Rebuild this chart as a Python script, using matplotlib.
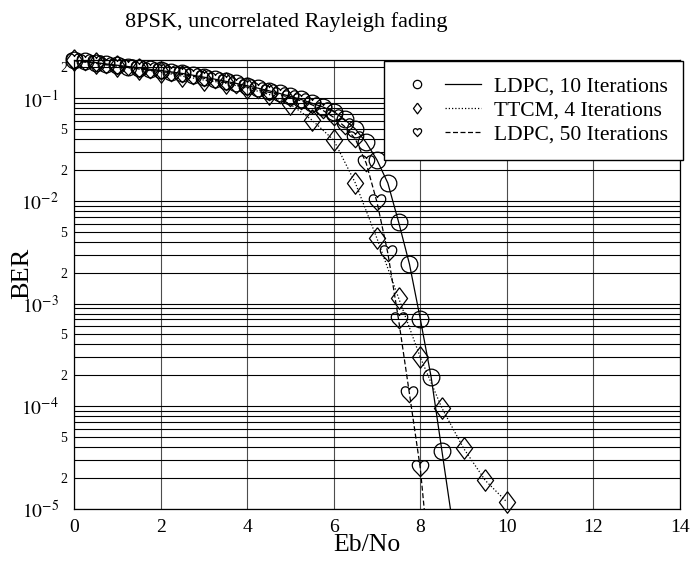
import numpy as np
import matplotlib
matplotlib.use('Agg')
import matplotlib.pyplot as plt
from matplotlib.path import Path
from matplotlib.legend_handler import HandlerTuple
from matplotlib.ticker import FixedLocator, FuncFormatter

plt.rcParams['font.family'] = ['Liberation Serif', 'DejaVu Serif']
plt.rcParams['mathtext.fontset'] = 'stix'

# values (Eb/No in dB, BER)
ebno_ldpc10 = [0, 0.25, 0.5, 0.75, 1, 1.25, 1.5, 1.75, 2, 2.25, 2.5, 2.75, 3, 3.25,
               3.5, 3.75, 4, 4.25, 4.5, 4.75, 5, 5.25, 5.5, 5.75, 6, 6.25, 6.5, 6.75,
               7, 7.25, 7.5, 7.75, 8, 8.25, 8.5, 8.75]
ber_ldpc10 = [0.235, 0.228, 0.222, 0.215, 0.209, 0.203, 0.197, 0.191, 0.186, 0.180,
              0.174, 0.167, 0.160, 0.153, 0.146, 0.139, 0.132, 0.125, 0.118, 0.111,
              0.104, 0.097, 0.089, 0.082, 0.074, 0.062, 0.050, 0.037, 0.025, 0.0149,
              0.0062, 0.00242, 0.00071, 0.000193, 3.67e-5, 7e-6]

ebno_ttcm = [0, 0.5, 1, 1.5, 2, 2.5, 3, 3.5, 4, 4.5, 5, 5.5, 6, 6.5, 7, 7.5, 8, 8.5,
             9, 9.5, 10]
ber_ttcm = [0.234, 0.219, 0.205, 0.191, 0.179, 0.164, 0.150, 0.140, 0.125, 0.109,
            0.087, 0.061, 0.039, 0.0149, 0.0043, 0.00113, 3.0e-4, 9.6e-5, 3.9e-5,
            1.9e-5, 1.17e-5]

ebno_ldpc50 = [0, 0.25, 0.5, 0.75, 1, 1.25, 1.5, 1.75, 2, 2.25, 2.5, 2.75, 3, 3.25,
               3.5, 3.75, 4, 4.25, 4.5, 4.75, 5, 5.25, 5.5, 5.75, 6, 6.25, 6.5, 6.75,
               7, 7.25, 7.5, 7.75, 8, 8.25]
ber_ldpc50 = [0.231, 0.224, 0.218, 0.211, 0.205, 0.199, 0.193, 0.187, 0.182, 0.176,
              0.170, 0.163, 0.156, 0.149, 0.142, 0.135, 0.128, 0.121, 0.114, 0.108,
              0.101, 0.094, 0.086, 0.076, 0.065, 0.053, 0.040, 0.0233, 0.0097, 0.0031,
              6.9e-4, 1.32e-4, 2.5e-5, 2e-6]

labels = ['LDPC, 10 Iterations', 'TTCM, 4 Iterations', 'LDPC, 50 Iterations']

x_ticks = [0, 2, 4, 6, 8, 10, 12, 14]
y_major = [1e-5, 1e-4, 1e-3, 1e-2, 1e-1]
y_min, y_max = 1e-5, 0.235

# marker shapes
diamond = [(0, 1), (0.75, 0), (0, -1), (-0.75, 0), (0, 1)]
heart = Path([(0, -1), (-0.35, -0.55), (-1, -0.2), (-1, 0.4),
              (-1, 1.05), (-0.2, 1.1), (0, 0.6),
              (0.2, 1.1), (1, 1.05), (1, 0.4),
              (1, -0.2), (0.35, -0.55), (0, -1), (0, -1)],
             [Path.MOVETO] + [Path.CURVE4] * 12 + [Path.CLOSEPOLY])

fig = plt.figure(figsize=(6.9, 5.64), dpi=100)
ax = fig.add_axes([74/690, 1-509/564, 606/690, 449/564])

def curve(x, y, marker, ms, dash):
    x = np.array(x)
    y = np.array(y)
    ln, = ax.plot(x, y, color='black', lw=0.9, linestyle=dash, zorder=3)
    keep = y >= y_min
    mk, = ax.plot(x[keep], y[keep], ls='none', marker=marker, ms=ms,
                  mfc='none', mec='black', mew=0.9, clip_on=False, zorder=4)
    return mk, ln

h1 = curve(ebno_ldpc10, ber_ldpc10, 'o', 12, '-')
h2 = curve(ebno_ttcm, ber_ttcm, diamond, 15.5, (0, (1, 1.6)))
h3 = curve(ebno_ldpc50, ber_ldpc50, heart, 13, (0, (4, 2)))

ax.set_yscale('log')
ax.set_xlim(0, 14)
ax.set_ylim(y_min, y_max)
ax.set_xticks(x_ticks)
ax.yaxis.set_major_locator(FixedLocator(y_major))
ax.yaxis.set_major_formatter(FuncFormatter(
    lambda v, p: r'$10^{%d}$' % int(round(np.log10(v)))))
minors = [m * 10.0**k for k in range(-5, 0) for m in range(2, 10)]
ax.yaxis.set_minor_locator(FixedLocator(minors))

def minor_lab(v, p):
    m = v / 10.0**np.floor(np.log10(v) + 1e-9)
    m = int(round(m))
    return str(m) if m in (2, 5) else ''

ax.yaxis.set_minor_formatter(FuncFormatter(minor_lab))

ax.tick_params(axis='x', length=0, pad=7, labelsize=14)
ax.tick_params(axis='y', which='major', length=0, pad=11, labelsize=14)
ax.tick_params(axis='y', which='minor', length=0, pad=5, labelsize=10)

ax.grid(True, which='both', axis='y', color='black', lw=0.8)
ax.grid(True, which='major', axis='x', color='0.3', lw=0.8)
for s in ax.spines.values():
    s.set_linewidth(0.9)

leg = ax.legend([h1, h2, h3], labels,
                handler_map={tuple: HandlerTuple(ndivide=None, pad=0.45)},
                loc='upper right', bbox_to_anchor=(683/690, 1-61/564),
                bbox_transform=fig.transFigure, borderaxespad=0,
                handlelength=3.8, handletextpad=0.6, borderpad=0.7,
                labelspacing=0.2, markerscale=0.5, fancybox=False,
                edgecolor='black', framealpha=1, fontsize=15.5, numpoints=1)
leg.get_frame().set_linewidth(1.0)
leg.set_zorder(10)

fig.text(286/690, 1-22/564, '8PSK, uncorrelated Rayleigh fading',
         ha='center', va='center', fontsize=16)
fig.text(367/690, 1-545/564, 'Eb/No', ha='center', va='center', fontsize=18.5)
fig.text(22/690, 1-273/564, 'BER', ha='center', va='center', rotation=90,
         fontsize=19)

fig.savefig('out.png', dpi=100)
